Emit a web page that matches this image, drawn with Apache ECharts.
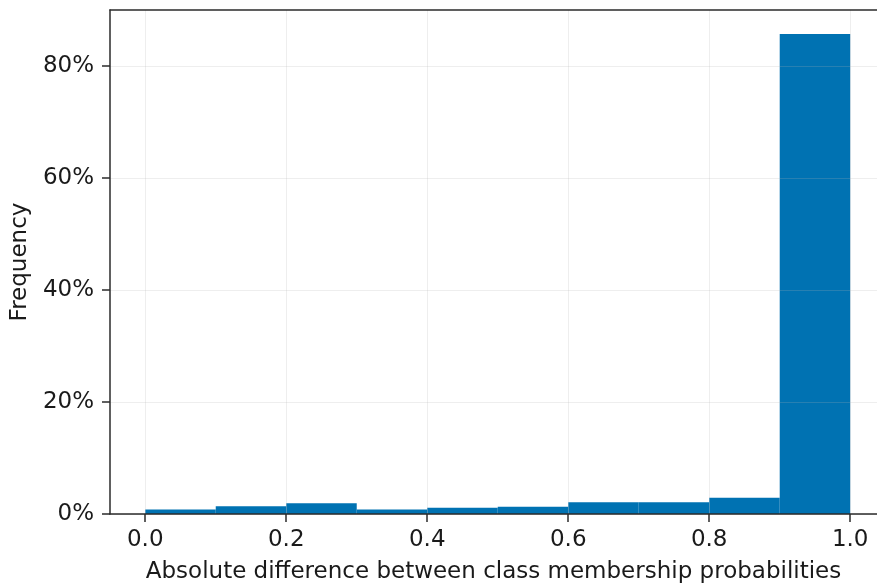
<!DOCTYPE html>
<html>
<head>
<meta charset="utf-8">
<script src="https://cdn.jsdelivr.net/npm/echarts@6/dist/echarts.min.js"></script>
<style>
  html, body { margin: 0; padding: 0; background: #fff; }
  #chart { width: 877px; height: 586px; }
</style>
</head>
<body>
<div id="chart"></div>
<script>
// histogram bins (left edges, width 0.1) and share of observations in %
const binStarts = [0.0, 0.1, 0.2, 0.3, 0.4, 0.5, 0.6, 0.7, 0.8, 0.9];
const binWidth = 0.1;
const frequency = [0.8, 1.4, 1.9, 0.8, 1.1, 1.3, 2.1, 2.1, 2.9, 85.7];
const xTicks = [0.0, 0.2, 0.4, 0.6, 0.8, 1.0];
const yTicks = [0, 20, 40, 60, 80];

const font = 'DejaVu Sans';
const textColor = '#1a1a1a';
const spine = '#2b2b2b';
const gridColor = 'rgba(176,176,176,0.22)';

const chart = echarts.init(document.getElementById('chart'), null, { renderer: 'canvas' });

// the plot runs past the right edge of the picture, so no right spine
const xMin = -0.05;
const xMax = 1.038;

chart.setOption({
  animation: false,
  grid: { left: 110, right: 0, top: 10, bottom: 72, outerBoundsMode: 'none', containLabel: false },
  xAxis: [{
    type: 'value',
    min: xMin,
    max: xMax,
    z: 5,
    name: 'Absolute difference between class membership probabilities',
    nameLocation: 'middle',
    nameGap: 47,
    nameTextStyle: { fontFamily: font, fontSize: 23, color: textColor },
    axisLine: { onZero: false, lineStyle: { color: spine, width: 1.5 } },
    axisTick: { show: true, length: 8, customValues: xTicks, lineStyle: { color: spine, width: 1.5 } },
    axisLabel: {
      customValues: xTicks, margin: 15,
      fontFamily: font, fontSize: 23, color: textColor,
      formatter: (v) => v.toFixed(1)
    },
    splitLine: { show: true, lineStyle: { color: gridColor, width: 1 } }
  }, {
    // top spine only
    type: 'value',
    position: 'top',
    min: xMin,
    max: xMax,
    z: 5,
    axisLine: { show: true, onZero: false, lineStyle: { color: spine, width: 1.5 } },
    axisTick: { show: false },
    axisLabel: { show: false },
    splitLine: { show: false }
  }],
  yAxis: {
    type: 'value',
    min: 0,
    max: 90,
    z: 5,
    name: 'Frequency',
    nameLocation: 'middle',
    nameGap: 72,
    nameTextStyle: { fontFamily: font, fontSize: 23, color: textColor },
    axisLine: { show: true, onZero: false, lineStyle: { color: spine, width: 1.5 } },
    axisTick: { show: true, length: 8, customValues: yTicks, lineStyle: { color: spine, width: 1.5 } },
    axisLabel: {
      customValues: yTicks, margin: 16,
      fontFamily: font, fontSize: 23, color: textColor,
      formatter: (v) => v + '%'
    },
    splitLine: { show: true, lineStyle: { color: gridColor, width: 1 } }
  },
  series: [{
    type: 'custom',
    z: 1,
    xAxisIndex: 0,
    data: binStarts.map((s, i) => [s, s + binWidth, frequency[i]]),
    encode: { x: [0, 1], y: 2 },
    renderItem: (params, api) => {
      const p0 = api.coord([api.value(0), api.value(2)]);
      const p1 = api.coord([api.value(1), 0]);
      return {
        type: 'rect',
        shape: { x: p0[0], y: p0[1], width: p1[0] - p0[0], height: p1[1] - p0[1] },
        style: { fill: '#0072b2' }
      };
    }
  }]
});
</script>
</body>
</html>
